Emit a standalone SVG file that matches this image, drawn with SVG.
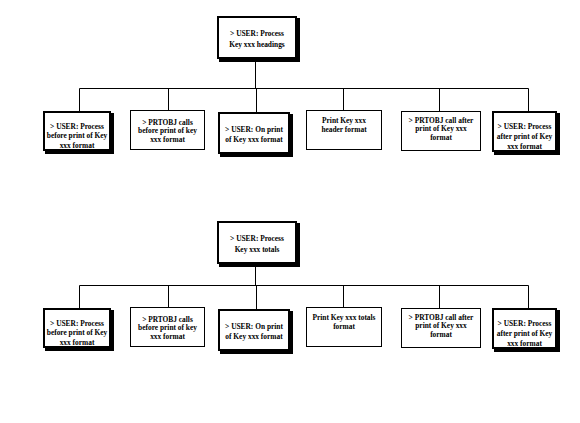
<svg xmlns="http://www.w3.org/2000/svg" width="580" height="423" viewBox="0 0 580 423">
<style>
  .bg { fill: #ffffff; }
  .thin { fill: #ffffff; stroke: #000000; stroke-width: 1; }
  .bold { fill: #ffffff; stroke: #000000; stroke-width: 2; }
  .shadow { fill: #000000; }
  .conn { stroke: #000000; stroke-width: 1; fill: none; }
  text { font-family: "Liberation Serif", "Times New Roman", serif; font-weight: bold; font-size: 7.4px; fill: #000000; text-anchor: middle; }
</style>
<rect class="bg" x="0" y="0" width="580" height="423"/>

<g id="connectors">
  <path class="conn" d="M255.5 60 V88.5 M79.5 88.5 H528.5 M79.5 88.5 V112 M168.5 88.5 V110 M256.5 88.5 V113 M343.5 88.5 V110 M439.5 88.5 V111 M528.5 88.5 V112"/>
  <path class="conn" d="M255.5 265 V285.5 M79.5 285.5 H528.5 M79.5 285.5 V309 M168.5 285.5 V307 M256.5 285.5 V310 M343.5 285.5 V307 M439.5 285.5 V308 M528.5 285.5 V309"/>
</g>

<!-- Top section -->
<g id="top1">
  <rect class="shadow" x="219" y="18" width="81" height="44"/>
  <rect class="bold" x="218" y="17" width="78" height="41"/>
  <text x="257" y="36">&gt; USER: Process</text>
  <text x="257" y="47">Key xxx headings</text>
</g>
<g id="a1">
  <rect class="shadow" x="45" y="113" width="69" height="41"/>
  <rect class="bold" x="44" y="112" width="66" height="38"/>
  <text x="77" y="128.5">&gt; USER: Process</text>
  <text x="77" y="138">before print of Key</text>
  <text x="77" y="147.5">xxx format</text>
</g>
<g id="a2">
  <rect class="thin" x="130.5" y="110.5" width="74" height="39"/>
  <text x="167.5" y="124.5">&gt; PRTOBJ calls</text>
  <text x="167.5" y="133">before print of key</text>
  <text x="167.5" y="141.5">xxx format</text>
</g>
<g id="a3">
  <rect class="shadow" x="220" y="114" width="73" height="43"/>
  <rect class="bold" x="219" y="113" width="70" height="40"/>
  <text x="254" y="131.5">&gt; USER: On print</text>
  <text x="254" y="141.5">of Key xxx format</text>
</g>
<g id="a4">
  <rect class="thin" x="306.5" y="110.5" width="75" height="39"/>
  <text x="344" y="122.5">Print Key xxx</text>
  <text x="344" y="132">header format</text>
</g>
<g id="a5">
  <rect class="thin" x="401.5" y="111.5" width="79" height="39"/>
  <text x="441" y="122.5">&gt; PRTOBJ call after</text>
  <text x="441" y="131">print of Key xxx</text>
  <text x="441" y="139.5">format</text>
</g>
<g id="a6">
  <rect class="shadow" x="494" y="113" width="66" height="42"/>
  <rect class="bold" x="493" y="112" width="63" height="39"/>
  <text x="524.5" y="129">&gt; USER: Process</text>
  <text x="524.5" y="139">after print of Key</text>
  <text x="524.5" y="149">xxx format</text>
</g>

<!-- Bottom section -->
<g id="top2">
  <rect class="shadow" x="219" y="223" width="81" height="44"/>
  <rect class="bold" x="218" y="222" width="78" height="41"/>
  <text x="257" y="241">&gt; USER: Process</text>
  <text x="257" y="252">Key xxx totals</text>
</g>
<g id="b1">
  <rect class="shadow" x="45" y="310" width="69" height="41"/>
  <rect class="bold" x="44" y="309" width="66" height="38"/>
  <text x="77" y="325.5">&gt; USER: Process</text>
  <text x="77" y="335">before print of Key</text>
  <text x="77" y="344.5">xxx format</text>
</g>
<g id="b2">
  <rect class="thin" x="130.5" y="307.5" width="74" height="39"/>
  <text x="167.5" y="321.5">&gt; PRTOBJ calls</text>
  <text x="167.5" y="330">before print of key</text>
  <text x="167.5" y="338.5">xxx format</text>
</g>
<g id="b3">
  <rect class="shadow" x="220" y="311" width="73" height="43"/>
  <rect class="bold" x="219" y="310" width="70" height="40"/>
  <text x="254" y="328.5">&gt; USER: On print</text>
  <text x="254" y="338.5">of Key xxx format</text>
</g>
<g id="b4">
  <rect class="thin" x="306.5" y="307.5" width="75" height="39"/>
  <text x="344" y="319.5">Print Key xxx totals</text>
  <text x="344" y="329">format</text>
</g>
<g id="b5">
  <rect class="thin" x="401.5" y="308.5" width="79" height="39"/>
  <text x="441" y="319.5">&gt; PRTOBJ call after</text>
  <text x="441" y="328">print of Key xxx</text>
  <text x="441" y="336.5">format</text>
</g>
<g id="b6">
  <rect class="shadow" x="494" y="310" width="66" height="42"/>
  <rect class="bold" x="493" y="309" width="63" height="39"/>
  <text x="524.5" y="326">&gt; USER: Process</text>
  <text x="524.5" y="336">after print of Key</text>
  <text x="524.5" y="346">xxx format</text>
</g>
</svg>
